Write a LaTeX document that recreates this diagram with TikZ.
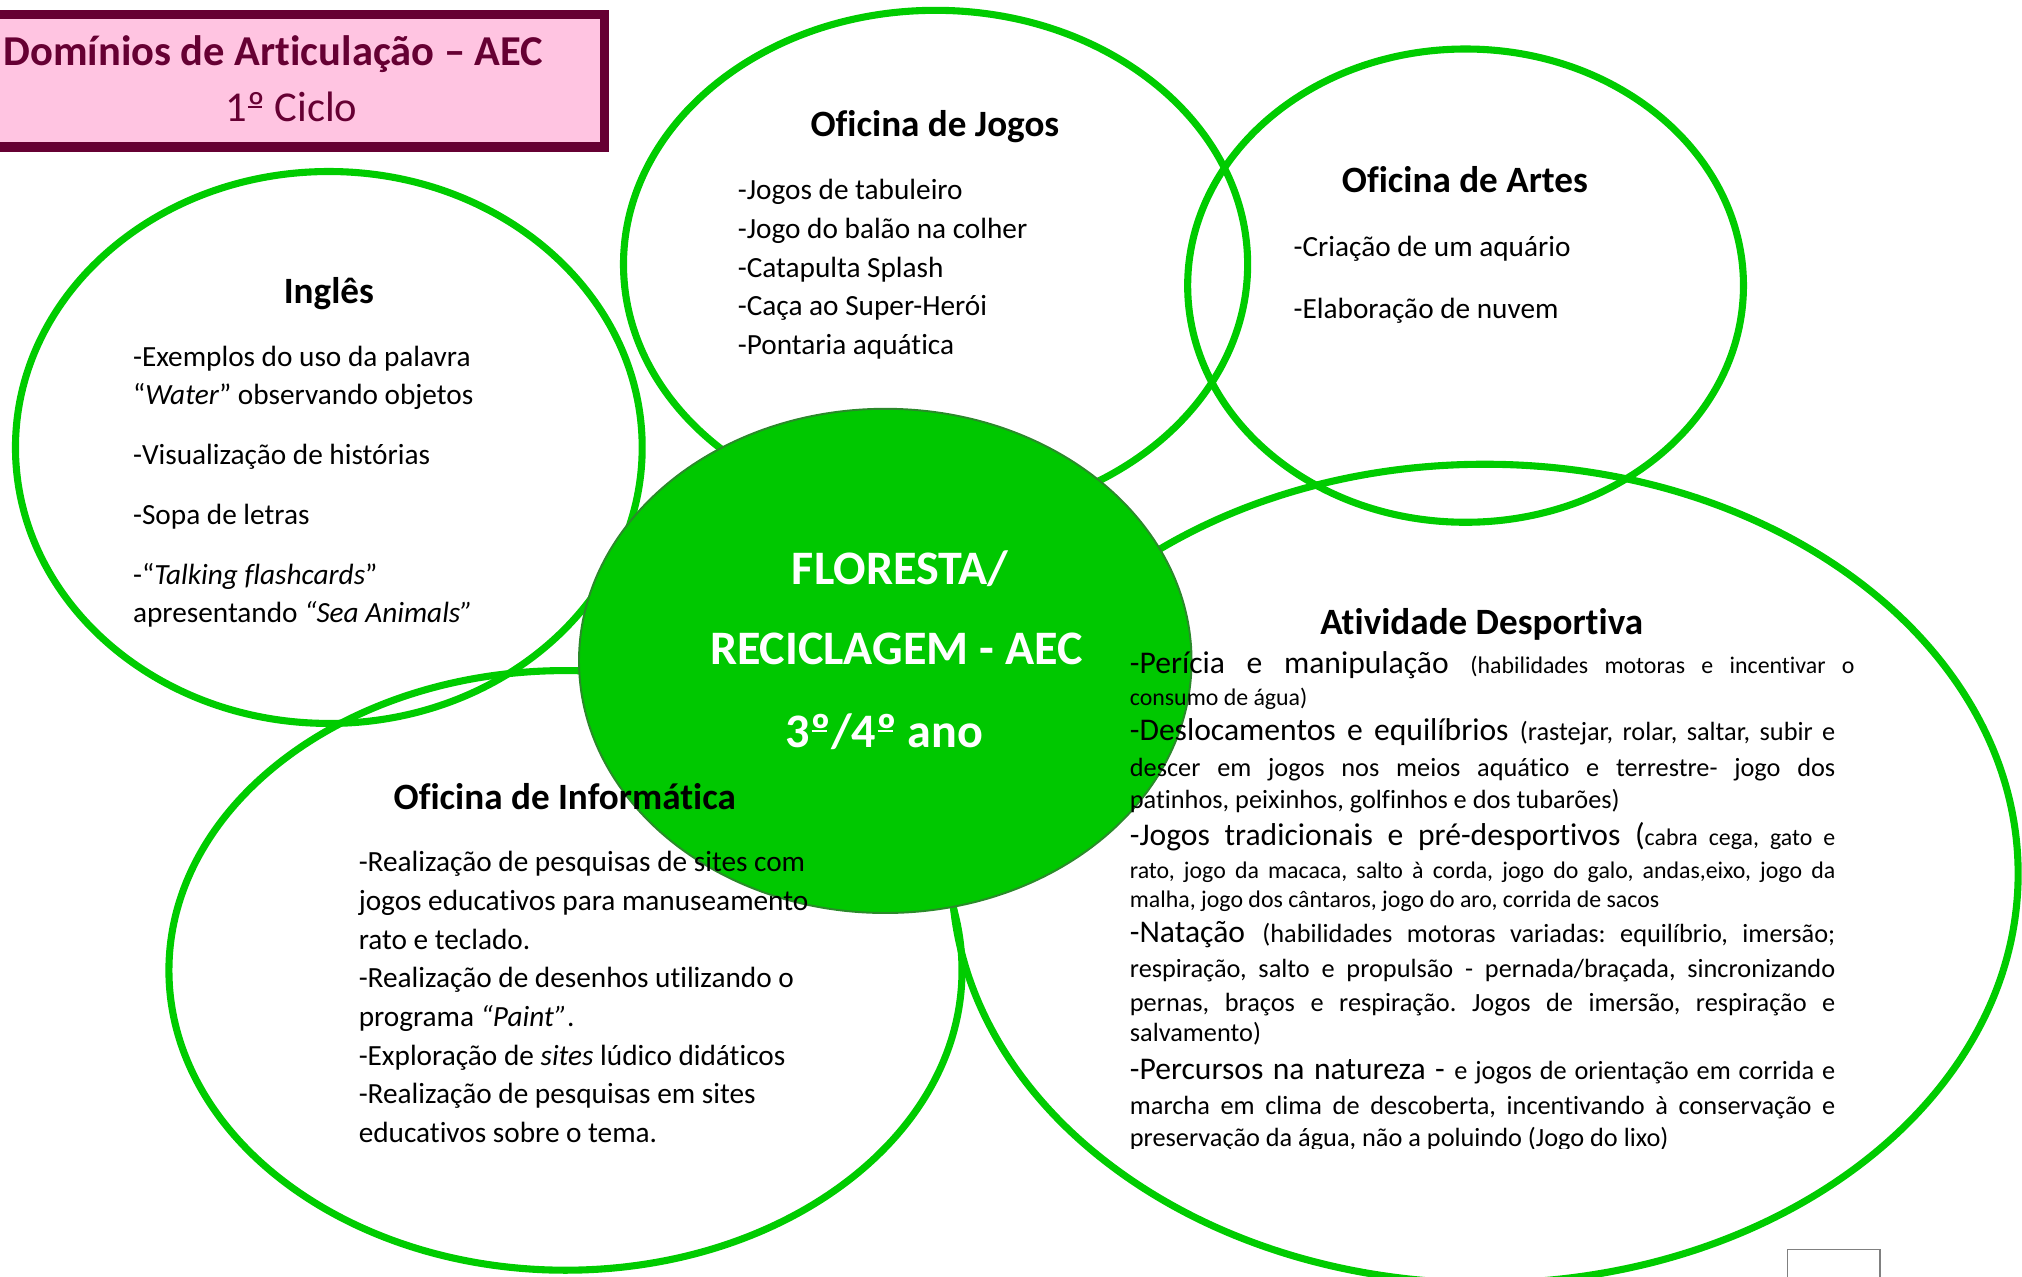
\documentclass[tikz,border=0pt]{standalone}
\usepackage{fontspec}
\setmainfont{Carlito}[RawFeature={-liga;-clig;-calt;-dlig}]
\usetikzlibrary{shapes.geometric}
\definecolor{ringgreen}{HTML}{00CC00}
\definecolor{corefill}{HTML}{00C800}
\definecolor{coreline}{HTML}{2A8A2A}
\definecolor{boxline}{HTML}{660033}
\definecolor{boxfill}{HTML}{FFC4E1}
\frenchspacing
\newcommand{\fsz}[1]{\fontsize{#1}{#1}\selectfont}
\newcommand{\adbig}{\fontsize{24.5}{24.5}\selectfont}
\newcommand{\admid}{\fontsize{20.4}{20.4}\selectfont}
\newcommand{\adsml}{\fontsize{18.5}{18.5}\selectfont}
\newcommand{\ordm}{\makebox[0pt][l]{\hspace{0.03em}\raisebox{0.33em}{\rule{0.32em}{0.045em}}}º}
\begin{document}
\begin{tikzpicture}[x=1pt,y=-1pt,
  ring/.style={ellipse, draw=ringgreen, line width=5.5pt, inner sep=0pt},
  ttl/.style={font=\fsz{28.8}\bfseries, anchor=base, inner sep=0pt},
  body/.style={font=\fsz{22.7}, anchor=base west, inner sep=0pt},
  adline/.style={font=\admid, anchor=base west, inner sep=0pt},
  coretxt/.style={font=\fsz{37.3}\bfseries, text=white, anchor=base, inner sep=0pt}]
\useasboundingbox (0,0) rectangle (1568,990);
% title box
\node[draw=boxline, fill=boxfill, line width=7pt, minimum width=489pt, minimum height=103pt, inner sep=0pt] (tbox) at (224.5,62.5) {};
\node[font=\fsz{33}\bfseries, text=boxline, anchor=base, inner sep=0pt] (t1) at (212,50.5) {Domínios de Articulação – AEC};
\node[font=\fsz{33}, text=boxline, anchor=base, inner sep=0pt] (t2) at (226,94.5) {1\ordm\ Ciclo};
% rings
\node[ring, minimum width=486pt, minimum height=428pt] (ing) at (255,347) {};
\node[ring, minimum width=484pt, minimum height=394pt] (jog) at (725.5,205) {};
\node[ring, minimum width=431pt, minimum height=367pt] (art) at (1136.5,221.5) {};
\node[ring, minimum width=615pt, minimum height=465pt] (inf) at (438.5,752.5) {};
\node[ring, minimum width=827pt, minimum height=635pt] (atv) at (1151.5,677.5) {};
% core
\node[ellipse, fill=corefill, draw=coreline, line width=1.5pt, minimum width=475pt, minimum height=391pt, inner sep=0pt] (core) at (686.5,512.5) {};
\node[coretxt] (c1) at (698,453) {FLORESTA/};
\node[coretxt] (c2) at (695,515) {RECICLAGEM - AEC};
\node[coretxt] (c3) at (686,580) {3\ordm/4\ordm\ ano};
% small box
\node[draw=gray, line width=1.2pt, minimum width=72pt, minimum height=60pt, inner sep=0pt] (sbox) at (1422,999) {};
% Ingles
\node[ttl] (ingT) at (255,235) {Inglês};
\node[body] (ing1) at (103,284) {-Exemplos do uso da palavra};
\node[body] (ing2) at (103,314) {“\textit{Water}” observando objetos};
\node[body] (ing3) at (103,360) {-Visualização de histórias};
\node[body] (ing4) at (103,407) {-Sopa de letras};
\node[body] (ing5) at (103,453) {-“\textit{Talking flashcards}”};
\node[body] (ing6) at (103,483) {apresentando \textit{“Sea Animals”}};
% Jogos
\node[ttl] (jogT) at (725,106) {Oficina de Jogos};
\node[body] (jog1) at (572,155) {-Jogos de tabuleiro};
\node[body] (jog2) at (572,185) {-Jogo do balão na colher};
\node[body] (jog3) at (572,215) {-Catapulta Splash};
\node[body] (jog4) at (572,245) {-Caça ao Super-Herói};
\node[body] (jog5) at (572,275) {-Pontaria aquática};
% Artes
\node[ttl] (artT) at (1136,149) {Oficina de Artes};
\node[body] (art1) at (1003,199) {-Criação de um aquário};
\node[body] (art2) at (1003,247) {-Elaboração de nuvem};
% Informatica
\node[ttl] (infT) at (438,628) {Oficina de Informática};
\node[body] (inf1) at (278,676) {-Realização de pesquisas de sites com};
\node[body] (inf2) at (278,706) {jogos educativos para manuseamento};
\node[body] (inf3) at (278,736) {rato e teclado.};
\node[body] (inf4) at (278,766) {-Realização de desenhos utilizando o};
\node[body] (inf5) at (278,796) {programa \textit{“Paint”}.};
\node[body] (inf6) at (278,826) {-Exploração de \textit{sites} lúdico didáticos};
\node[body] (inf7) at (278,856) {-Realização de pesquisas em sites};
\node[body] (inf8) at (278,886) {educativos sobre o tema.};
% Atividade
\node[ttl] (atvT) at (1149,492) {Atividade Desportiva};
\node[adline] (ad1) at (876,522) {\makebox[562pt][s]{\adbig -Perícia e manipulação \adsml (habilidades motoras e incentivar o}};
\node[adline, font=\adsml] (ad2) at (876,547) {consumo de água)};
\node[adline] (ad3) at (876,574) {\makebox[547pt][s]{\adbig -Deslocamentos e equilíbrios \admid (rastejar, rolar, saltar, subir e}};
\node[adline] (ad4) at (876,602) {\makebox[547pt][s]{descer em jogos nos meios aquático e terrestre- jogo dos}};
\node[adline] (ad5) at (876,627) {patinhos, peixinhos, golfinhos e dos tubarões)};
\node[adline] (ad6) at (876,656) {\makebox[547pt][s]{\adbig -Jogos tradicionais e pré-desportivos (\adsml cabra cega, gato e}};
\node[adline] (ad7) at (876,681) {\adsml\makebox[547pt][s]{rato, jogo da macaca, salto à corda, jogo do galo, andas,eixo, jogo da}};
\node[adline, font=\adsml] (ad8) at (876,704) {malha, jogo dos cântaros, jogo do aro, corrida de sacos};
\node[adline] (ad9) at (876,731) {\makebox[547pt][s]{\adbig -Natação \admid (habilidades motoras variadas: equilíbrio, imersão;}};
\node[adline] (ad10) at (876,758) {\makebox[547pt][s]{respiração, salto e propulsão - pernada/braçada, sincronizando}};
\node[adline] (ad11) at (876,784) {\makebox[547pt][s]{pernas, braços e respiração. Jogos de imersão, respiração e}};
\node[adline] (ad12) at (876,808) {salvamento)};
\node[adline] (ad13) at (876,837) {\makebox[547pt][s]{\adbig -Percursos na natureza - \admid e jogos de orientação em corrida e}};
\node[adline] (ad14) at (876,864) {\makebox[547pt][s]{marcha em clima de descoberta, incentivando à conservação e}};
\begin{scope}
\clip (860,870) rectangle (1450,891);
\node[adline] (ad15) at (876,889) {preservação da água, não a poluindo (Jogo do lixo)};
\end{scope}
\end{tikzpicture}
\end{document}
